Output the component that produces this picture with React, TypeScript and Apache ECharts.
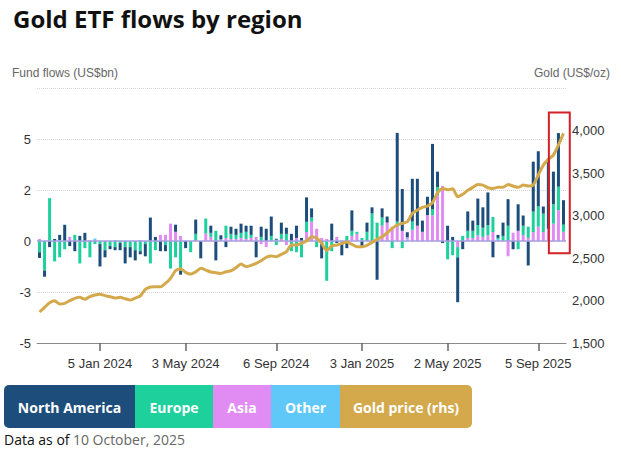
import React, { useEffect, useRef } from "react";
import * as echarts from "echarts";

const MONTHS = ["Jan", "Feb", "Mar", "Apr", "May", "Jun", "Jul", "Aug", "Sep", "Oct", "Nov", "Dec"];
const FIRST_WEEK = Date.UTC(2023, 9, 13); // 13 Oct 2023, weekly (Fridays) to 10 Oct 2025
const WEEK_COUNT = 105;
const categories: string[] = Array.from({ length: WEEK_COUNT }, (_, i) => {
  const d = new Date(FIRST_WEEK + i * 7 * 86400000);
  return `${d.getUTCDate()} ${MONTHS[d.getUTCMonth()]} ${d.getUTCFullYear()}`;
});

const tickLabels = ["5 Jan 2024", "3 May 2024", "6 Sep 2024", "3 Jan 2025", "2 May 2025", "5 Sep 2025"];

const northAmerica = [
  -0.28, -0.3, -0.3, 0.1, 0.25, 0.8, -0.25, -0.5, 0.25, 0.4,
  0, 0, -1.1, -0.35, -0.15, -0.15, -0.35, -0.8, -0.5, -0.5,
  -0.15, -0.6, 1.15, 0.2, -0.5, -0.3, 0, 0.35, -0.2, -0.35,
  0, 0.7, -0.85, 0, 0.35, -0.95, 0.2, -0.3, 0.35, 0.3,
  0.45, 0.3, 0.45, -0.8, 0.5, 0.6, 0.95, 0.05, 0.55, 0.3,
  0.35, 0.6, 0.15, 1.2, 0.45, 0, -0.85, 0, 0.85, -0.1,
  -0.55, -0.35, 1.0, 0, -0.25, 0.45, 0.3, -1.9, 0.45, 0.3,
  0, 4.35, 2.05, 0.25, 2.1, 2.3, 0.55, 0.9, 3.2, 0.75,
  -0.1, 0.75, 0.2, -2.2, -0.4, 0.95, 0.5, 1.3, 1.0, 1.6,
  -0.8, 0.15, 0.65, 1.3, -0.4, 1.3, 0.5, -1.2, 2.45, 2.7,
  0.35, 3.45, 1.6, 2.63, 1.2,
];

const europe = [
  -0.55, -1.45, 2.1, -1.0, -0.8, -0.4, 0, 0.3, -1.1, -0.35,
  -0.8, -0.15, -0.15, -0.45, -0.25, -0.3, -0.1, -0.3, -0.3, -0.45,
  -0.5, -0.15, -1.1, -0.45, 0, -0.2, -1.35, -0.8, -1.45, 0,
  -0.55, 0.35, 0, 0.73, 0.2, 0.5, 0, 0.6, 0.25, 0.2,
  0.25, 0.35, 0.15, 0, 0.2, 0, 0.25, -0.2, 0.25, 0.35,
  -0.5, -0.55, -0.8, 0.5, 0.2, -0.3, 0, -1.95, -0.5, 0,
  -0.15, 0.25, 0.25, 0.1, 0.15, 0.45, 1.35, 0.9, 0.4, 0,
  -0.35, 0.25, -0.35, 0, 0.4, 0, 0, 0, 0.3, 0.4,
  0, -0.9, -0.7, -0.5, 0.25, 0.35, 0.35, 0.5, 0.45, 0.5,
  0.74, 0.05, 0.25, 0.75, 0, -0.4, 0.45, 0.55, 1.0, 1.0,
  0.9, 0, 0.95, 1.15, 0.35,
];

const asia = [
  0.05, 0, 0, 0, 0, 0, 0.2, 0, 0, 0,
  0.05, 0, 0, 0, 0, 0, 0, 0, 0, 0,
  0.05, 0, 0, 0, 0.3, 0.3, 0.85, 0.45, 0.25, 0,
  0, 0, 0, 0.37, 0.2, 0, 0, 0.15, 0.1, 0.1,
  0.15, 0.1, 0.15, 0.2, -0.15, -0.3, 0, 0, 0.1, -0.2,
  0, 0.15, 0, 0.44, 0.95, 0.6, 0.15, 0.1, 0, 0.15,
  0, 0, 0.25, 0.35, 0, 0, 0, 0, 0.75, 0.9,
  0.7, 0.7, 0.5, 0.1, 0.55, 0.75, 0.45, 1.27, 1.26, 2.25,
  2.7, 0, 0, -0.3, 0, 0.15, 0.15, 0.28, 0.2, 0.28,
  0.44, 0, 0, -0.75, 0.4, 0.5, 0.3, 0.15, 0.44, 0.7,
  0.44, 0.6, 0.85, 1.51, 0.45,
];

const other = [
  0.05, 0, 0, 0, 0.05, 0, 0, 0, 0, 0,
  0, 0.12, 0, 0, 0, 0.05, 0, 0, 0, 0,
  0, 0, 0, 0, 0, 0, 0, 0, 0, 0,
  0, 0, 0, 0, 0, 0, 0.08, 0, 0, 0,
  0, 0, 0, 0, 0, 0, 0, 0.06, 0, 0,
  0, 0, 0, 0, 0, 0, 0, 0, 0, 0.05,
  0, 0, 0, 0, 0, 0, 0, 0, 0, 0,
  0, 0, 0, 0.08, 0, 0, 0, 0, 0, 0,
  0, 0, 0, 0, 0, 0, 0, 0, 0, 0,
  0, 0.1, 0, 0, 0, 0, 0, 0, 0, 0,
  0, 0, 0, 0, 0,
];

const goldPrice = [
  1865, 1920, 1974, 1998, 1959, 1967, 1998, 2025, 2037, 2014,
  2045, 2065, 2073, 2057, 2045, 2029, 2037, 2021, 2006, 2029,
  2053, 2131, 2158, 2162, 2162, 2202, 2261, 2350, 2374, 2331,
  2311, 2338, 2378, 2358, 2335, 2327, 2319, 2338, 2350, 2386,
  2429, 2397, 2413, 2437, 2468, 2508, 2523, 2515, 2543, 2574,
  2652, 2652, 2672, 2700, 2750, 2731, 2672, 2586, 2641, 2652,
  2672, 2688, 2661, 2633, 2633, 2649, 2684, 2719, 2750, 2797,
  2849, 2888, 2908, 2927, 3025, 3064, 3096, 3111, 3150, 3268,
  3319, 3303, 3315, 3221, 3249, 3296, 3331, 3366, 3358, 3327,
  3319, 3331, 3331, 3366, 3346, 3331, 3358, 3346, 3358, 3476,
  3593, 3660, 3711, 3829, 3966,
];

const COLORS = {
  na: "#1d4e7b",
  eu: "#1dd09c",
  asia: "#e08cf2",
  other: "#5fc8f8",
  gold: "#d4a94c",
};

const legendItems = [
  { label: "North America", color: COLORS.na, w: 131 },
  { label: "Europe", color: COLORS.eu, w: 78 },
  { label: "Asia", color: COLORS.asia, w: 58 },
  { label: "Other", color: COLORS.other, w: 69 },
  { label: "Gold price (rhs)", color: COLORS.gold, w: 132 },
];

const HIGHLIGHT = { fromIndex: 102, toIndex: 104, top: 6.3, bottom: -0.6 };

export default function App() {
  const ref = useRef<HTMLDivElement>(null);

  useEffect(() => {
    if (!ref.current) return;
    const chart = echarts.init(ref.current, null, { renderer: "svg", width: 621, height: 449 });
    const axisFont = "Liberation Sans, Arial, sans-serif";

    const bar = (name: string, data: number[], color: string) => ({
      type: "bar",
      name,
      data,
      stack: "flows",
      barWidth: 3,
      yAxisIndex: 0,
      itemStyle: { color },
      emphasis: { disabled: true },
    });

    chart.setOption({
      animation: false,
      backgroundColor: "#fff",
      grid: { left: 37, right: 55, top: 88, bottom: 106, containLabel: false },
      xAxis: {
        type: "category",
        data: categories,
        boundaryGap: true,
        axisLine: { show: true, onZero: false, lineStyle: { color: "#8a8a8a", width: 1 } },
        axisTick: {
          show: true,
          alignWithLabel: true,
          length: 8,
          interval: (_i: number, v: string) => tickLabels.includes(v),
          lineStyle: { color: "#666", width: 1.5 },
        },
        axisLabel: {
          interval: (_i: number, v: string) => tickLabels.includes(v),
          color: "#333",
          fontSize: 13,
          fontFamily: axisFont,
          margin: 14,
        },
        splitLine: { show: false },
      },
      yAxis: [
        {
          type: "value",
          min: -5,
          max: 7.5,
          interval: 2.5,
          position: "left",
          axisLine: { show: false },
          axisTick: { show: false },
          axisLabel: {
            color: "#333",
            fontSize: 13,
            fontFamily: axisFont,
            margin: 6,
            formatter: (v: number) => (v > 6 ? "" : String(Math.floor(v))),
          },
          splitLine: { show: true, lineStyle: { color: "#d6d6d6", type: "dotted", width: 1 } },
        },
        {
          type: "value",
          min: 1500,
          max: 4500,
          interval: 500,
          position: "right",
          axisLine: { show: false },
          axisTick: { show: false },
          splitLine: { show: false },
          axisLabel: {
            color: "#333",
            fontSize: 13,
            fontFamily: axisFont,
            margin: 6,
            formatter: (v: number) => (v > 4200 ? "" : v.toLocaleString("en-US")),
          },
        },
      ],
      series: [
        {
          ...bar("Other", other, COLORS.other),
          markLine: {
            silent: true,
            symbol: "none",
            label: { show: false },
            lineStyle: { color: "#ab9fe2", type: "solid", width: 1.5 },
            data: [{ yAxis: 0 }],
          },
        },
        bar("Asia", asia, COLORS.asia),
        bar("Europe", europe, COLORS.eu),
        bar("North America", northAmerica, COLORS.na),
        {
          type: "line",
          name: "Gold price (rhs)",
          data: goldPrice,
          yAxisIndex: 1,
          showSymbol: false,
          symbol: "none",
          smooth: 0.2,
          lineStyle: { color: COLORS.gold, width: 3 },
          emphasis: { disabled: true },
          z: 5,
        },
      ],
    });

    // highlight box anchored to the data coordinates
    const p0 = chart.convertToPixel({ seriesIndex: 0 }, [0, 0]) as number[];
    const p1 = chart.convertToPixel({ seriesIndex: 0 }, [1, 0]) as number[];
    const band = p1[0] - p0[0];
    const a = chart.convertToPixel({ seriesIndex: 0 }, [HIGHLIGHT.fromIndex, HIGHLIGHT.top]) as number[];
    const b = chart.convertToPixel({ seriesIndex: 0 }, [HIGHLIGHT.toIndex, HIGHLIGHT.bottom]) as number[];
    const boxX = a[0] - band * 0.9;
    const boxW = b[0] + band * 1.25 - boxX;

    const graphics: any[] = [
      {
        type: "text",
        x: 13,
        y: 6,
        style: {
          text: "Gold ETF flows by region",
          fill: "#111",
          font: "bold 24px 'Open Sans', 'Noto Sans', sans-serif",
          align: "left",
          verticalAlign: "top",
        },
      },
      {
        type: "text",
        x: 12,
        y: 73,
        style: {
          text: "Fund flows (US$bn)",
          fill: "#666",
          font: "12px 'Liberation Sans', Arial, sans-serif",
          align: "left",
          verticalAlign: "middle",
        },
      },
      {
        type: "text",
        x: 610,
        y: 73,
        style: {
          text: "Gold (US$/oz)",
          fill: "#666",
          font: "12px 'Liberation Sans', Arial, sans-serif",
          align: "right",
          verticalAlign: "middle",
        },
      },
      {
        type: "rect",
        shape: { x: boxX, y: a[1], width: boxW, height: b[1] - a[1] },
        style: { fill: "none", stroke: "#d42027", lineWidth: 2 },
        z: 100,
      },
    ];

    let lx = 4;
    legendItems.forEach((item, idx) => {
      const r =
        idx === 0 ? [5, 0, 0, 5] : idx === legendItems.length - 1 ? [0, 5, 5, 0] : 0;
      graphics.push({
        type: "rect",
        shape: { x: lx, y: 385, width: item.w, height: 43, r },
        style: { fill: item.color },
      });
      graphics.push({
        type: "text",
        x: lx + item.w / 2,
        y: 407,
        style: {
          text: item.label,
          fill: "#fff",
          font: "bold 14px 'Open Sans', 'Noto Sans', sans-serif",
          align: "center",
          verticalAlign: "middle",
        },
      });
      lx += item.w;
    });

    graphics.push({
      type: "text",
      x: 4,
      y: 439,
      style: {
        text: "{a|Data as of} {b|10 October, 2025}",
        verticalAlign: "middle",
        align: "left",
        rich: {
          a: { fill: "#111", fontSize: 14, fontFamily: "'Open Sans', 'Noto Sans', sans-serif" },
          b: { fill: "#666", fontSize: 14, fontFamily: "'Open Sans', 'Noto Sans', sans-serif" },
        },
      },
    });

    chart.setOption({ graphic: graphics });

    return () => chart.dispose();
  }, []);

  return (
    <div
      ref={ref}
      style={{ position: "fixed", left: 0, top: 0, width: 621, height: 449, background: "#fff" }}
    />
  );
}
